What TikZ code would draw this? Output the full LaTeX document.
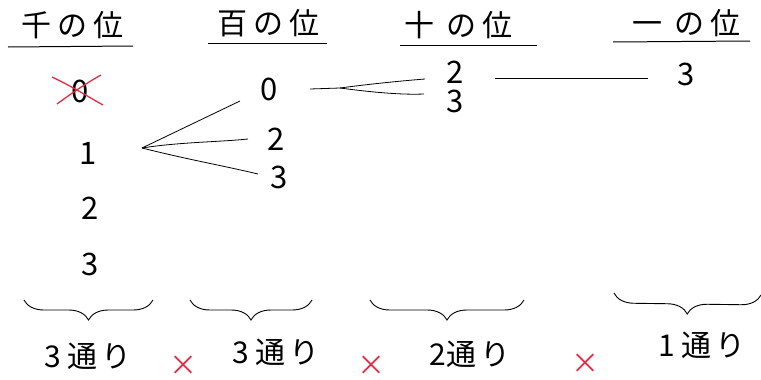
\documentclass[tikz,border=0pt]{standalone}
\usepackage{fontspec}
\setmainfont{Noto Sans CJK JP}
\usetikzlibrary{decorations.pathreplacing}
\definecolor{xred}{RGB}{225,45,70}
\newcommand{\gp}{\hspace{6pt}}
\tikzset{
  head/.style={font=\fontsize{30}{32}\selectfont\addfontfeatures{Weight=Light}, inner sep=1pt},
  dig/.style={font=\fontsize{31}{33}\selectfont\addfontfeatures{Weight=Light}, inner sep=1pt},
  lab/.style={font=\fontsize{30}{32}\selectfont\addfontfeatures{Weight=Light}, inner sep=1pt},
  uline/.style={line width=1pt},
  conn/.style={line width=0.8pt},
  brc/.style={decorate, decoration={brace, mirror, amplitude=20pt, aspect=0.5}, line width=0.9pt},
  times/.style={text=xred, font=\fontsize{28}{30}\selectfont, inner sep=0pt}
}
\begin{document}
\begin{tikzpicture}[x=1pt,y=-1pt]
\useasboundingbox (0,0) rectangle (761,380);
% headers
\node[head] (h1) at (72,25) {千\gp の\gp 位};
\node[head] (h2) at (268,23) {百\gp の\gp 位};
\node[head] (h3) at (458,25) {十\hspace{12pt}の\gp 位};
\node[head] (h4) at (686,23) {一\hspace{12pt}の\gp 位};
\draw[uline] (8,47) -- (133,46);
\draw[uline] (208,43) -- (327,43);
\draw[uline] (400,45) -- (537,45);
\draw[uline] (613,42) -- (750,41);
% thousands column
\node[dig] (t0) at (80,91) {0};
\draw[xred, line width=1.3pt] (52,77) .. controls (75,88) and (85,95) .. (103,105);
\draw[xred, line width=1.3pt] (57,104) .. controls (72,93) and (85,84) .. (101,75);
\node[dig] (t1) at (88,153) {1};
\node[dig] (t2) at (90,208) {2};
\node[dig] (t3) at (90,264) {3};
% hundreds column
\node[dig] (u0) at (269,89) {0};
\node[dig] (u2) at (276,139) {2};
\node[dig] (u3) at (279,177) {3};
% tens column
\node[dig] (v2) at (455,72) {2};
\node[dig] (v3) at (455,101) {3};
% ones column
\node[dig] (w3) at (686,74) {3};
% connectors
\coordinate (f1) at (142,148);
\draw[conn] (f1) -- (240,101);
\draw[conn] (f1) .. controls (180,142) and (220,142) .. (248,139);
\draw[conn] (f1) .. controls (190,160) and (220,165) .. (258,174);
\coordinate (f2) at (310,89);
\draw[conn] (f2) -- (340,88) .. controls (370,84) and (400,81) .. (425,79);
\draw[conn] (340,88) .. controls (370,92) and (400,95) .. (424,94);
\draw[conn] (495,78) -- (648,78);
% braces
\draw[brc] (24,300) -- (153,300);
\draw[brc] (190,300) -- (312,300);
\draw[brc] (370,300) -- (524,300);
\draw[brc] (614,293) -- (761,295);
% labels
\node[lab] (l1) at (88,356) {3\gp 通\hspace{4pt}り};
\node[lab] (l2) at (276,352) {3\gp 通\hspace{4pt}り};
\node[lab] (l3) at (470,354) {2通\hspace{4pt}り};
\node[lab] (l4) at (702,345) {1\gp 通\hspace{4pt}り};
% multiplication signs
\node[times] (m1) at (183,366) {×};
\node[times] (m2) at (371,366) {×};
\node[times] (m3) at (585,364) {×};
\end{tikzpicture}
\end{document}
